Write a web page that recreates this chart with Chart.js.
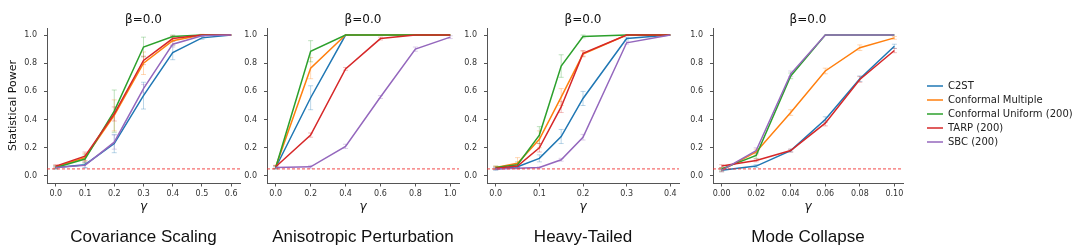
<!DOCTYPE html>
<html>
<head>
<meta charset="utf-8">
<script src="https://cdn.jsdelivr.net/npm/chart.js@4.4.1/dist/chart.umd.min.js"></script>
<style>
  body { margin: 0; background: #fff; width: 1080px; height: 249px; overflow: hidden; position: relative; }
  canvas { position: absolute; top: 0; }
</style>
</head>
<body>
<canvas id="p0" width="250" height="249" style="left:0px"></canvas>
<canvas id="p1" width="239" height="249" style="left:230px"></canvas>
<canvas id="p2" width="239" height="249" style="left:450px"></canvas>
<canvas id="p3" width="237" height="249" style="left:676px"></canvas>
<canvas id="legend" width="340" height="90" style="left:923px;top:77px"></canvas>
<script>
// series (same order in every panel)
const seriesNames = ['C2ST', 'Conformal Multiple', 'Conformal Uniform (200)', 'TARP (200)', 'SBC (200)'];
const seriesColors = ['#1f77b4', '#ff7f0e', '#2ca02c', '#d62728', '#9467bd'];
const errColors = ['rgba(31,119,180,0.3)', 'rgba(255,127,14,0.3)', 'rgba(44,160,44,0.3)', 'rgba(214,39,40,0.3)', 'rgba(148,103,189,0.3)'];

const panelNames = ['Covariance Scaling', 'Anisotropic Perturbation', 'Heavy-Tailed', 'Mode Collapse'];
const alphaLevel = 0.05;
const yTicks = [0, 0.2, 0.4, 0.6, 0.8, 1.0];

// Covariance Scaling
const covGamma = [0, 0.1, 0.2, 0.3, 0.4, 0.5, 0.6];
const covTicks = [0, 0.1, 0.2, 0.3, 0.4, 0.5, 0.6];
const covPower = [
  [0.06, 0.08, 0.23, 0.57, 0.875, 0.98, 1.0],
  [0.065, 0.13, 0.43, 0.80, 0.96, 1.0, 1.0],
  [0.06, 0.12, 0.46, 0.915, 0.99, 1.0, 1.0],
  [0.07, 0.14, 0.44, 0.82, 0.975, 1.0, 1.0],
  [0.06, 0.075, 0.24, 0.62, 0.935, 0.995, 1.0]
];
const covErr = [
  [0.01, 0.02, 0.065, 0.095, 0.05, 0.01, 0],
  [0.01, 0.03, 0.11, 0.08, 0.03, 0.005, 0],
  [0.01, 0.03, 0.15, 0.07, 0.01, 0, 0],
  [0.01, 0.03, 0.05, 0.03, 0.02, 0, 0],
  [0.01, 0.02, 0.05, 0.03, 0.02, 0.005, 0]
];

// Anisotropic Perturbation
const anisoGamma = [0, 0.2, 0.4, 0.6, 0.8, 1.0];
const anisoTicks = [0, 0.2, 0.4, 0.6, 0.8, 1.0];
const anisoPower = [
  [0.06, 0.555, 1.0, 1.0, 1.0, 1.0],
  [0.065, 0.765, 1.0, 1.0, 1.0, 1.0],
  [0.06, 0.885, 1.0, 1.0, 1.0, 1.0],
  [0.065, 0.29, 0.76, 0.975, 1.0, 1.0],
  [0.06, 0.065, 0.21, 0.56, 0.90, 0.985]
];
const anisoErr = [
  [0.01, 0.085, 0, 0, 0, 0],
  [0.01, 0.075, 0, 0, 0, 0],
  [0.01, 0.075, 0, 0, 0, 0],
  [0.01, 0.015, 0.01, 0.01, 0, 0],
  [0.01, 0.01, 0.015, 0.01, 0.015, 0.01]
];

// Heavy-Tailed
const heavyGamma = [0, 0.05, 0.1, 0.15, 0.2, 0.3, 0.4];
const heavyTicks = [0, 0.1, 0.2, 0.3, 0.4];
const heavyPower = [
  [0.05, 0.065, 0.125, 0.28, 0.55, 0.975, 1.0],
  [0.06, 0.09, 0.26, 0.56, 0.865, 1.0, 1.0],
  [0.06, 0.08, 0.29, 0.78, 0.99, 1.0, 1.0],
  [0.055, 0.07, 0.20, 0.49, 0.87, 1.0, 1.0],
  [0.05, 0.055, 0.06, 0.115, 0.275, 0.945, 1.0]
];
const heavyErr = [
  [0.01, 0.01, 0.025, 0.05, 0.05, 0.01, 0],
  [0.01, 0.04, 0.06, 0.06, 0.02, 0, 0],
  [0.01, 0.02, 0.06, 0.08, 0.01, 0, 0],
  [0.01, 0.01, 0.03, 0.04, 0.02, 0, 0],
  [0.005, 0.005, 0.005, 0.01, 0.02, 0.01, 0]
];

// Mode Collapse
const modeGamma = [0, 0.02, 0.04, 0.06, 0.08, 0.10];
const modeTicks = [0, 0.02, 0.04, 0.06, 0.08, 0.10];
const modePower = [
  [0.04, 0.07, 0.18, 0.40, 0.69, 0.92],
  [0.04, 0.17, 0.45, 0.745, 0.91, 0.98],
  [0.05, 0.145, 0.71, 1.0, 1.0, 1.0],
  [0.07, 0.11, 0.18, 0.375, 0.685, 0.89],
  [0.04, 0.18, 0.725, 1.0, 1.0, 1.0]
];
const modeErr = [
  [0.01, 0.01, 0.01, 0.02, 0.02, 0.015],
  [0.01, 0.02, 0.02, 0.02, 0.02, 0.01],
  [0.01, 0.02, 0.02, 0, 0, 0],
  [0.01, 0.01, 0.01, 0.02, 0.02, 0.015],
  [0.01, 0.02, 0.02, 0, 0, 0]
];

Chart.defaults.font.family = 'DejaVu Sans';
Chart.defaults.color = '#333';

const errorBars = {
  id: 'errorBars',
  beforeDatasetsDraw(chart) {
    const {ctx, scales: {x, y}} = chart;
    ctx.save();
    ctx.lineWidth = 1;
    chart.data.datasets.forEach(ds => {
      ctx.strokeStyle = ds.errColor;
      ds.data.forEach((p, j) => {
        const e = ds.errs[j];
        if (!e) return;
        const px = x.getPixelForValue(p.x);
        const lo = y.getPixelForValue(p.y - e), hi = y.getPixelForValue(p.y + e);
        ctx.beginPath();
        ctx.moveTo(px, lo); ctx.lineTo(px, hi);
        ctx.moveTo(px - 2.5, lo); ctx.lineTo(px + 2.5, lo);
        ctx.moveTo(px - 2.5, hi); ctx.lineTo(px + 2.5, hi);
        ctx.stroke();
      });
    });
    ctx.restore();
  }
};

const alphaLine = {
  id: 'alphaLine',
  afterDatasetsDraw(chart) {
    const {ctx, chartArea: a, scales: {y}} = chart;
    const py = y.getPixelForValue(alphaLevel);
    ctx.save();
    ctx.strokeStyle = 'rgba(240,40,40,0.85)';
    ctx.lineWidth = 1;
    ctx.setLineDash([3, 2]);
    ctx.beginPath();
    ctx.moveTo(a.left, py);
    ctx.lineTo(a.right, py);
    ctx.stroke();
    ctx.restore();
  }
};

function makePanel(idx, gamma, power, errs, ticks, xMin, xMax, decimals, yWidth) {
  const datasets = seriesNames.map((name, i) => ({
    label: name,
    data: gamma.map((g, j) => ({x: g, y: power[i][j]})),
    errs: errs[i],
    errColor: errColors[i],
    borderColor: seriesColors[i],
    backgroundColor: seriesColors[i],
    borderWidth: 1.5,
    pointRadius: 0,
    tension: 0,
    order: seriesNames.length - 1 - i
  }));

  new Chart(document.getElementById('p' + idx), {
    type: 'line',
    data: {datasets},
    plugins: [errorBars, alphaLine],
    options: {
      responsive: false,
      animation: false,
      events: [],
      layout: {padding: {right: 10}},
      scales: {
        x: {
          type: 'linear',
          min: xMin,
          max: xMax,
          afterBuildTicks: s => { s.ticks = ticks.map(v => ({value: v})); },
          afterFit: s => { s.height = 36; },
          ticks: {
            callback: v => v.toFixed(decimals),
            font: {size: 8},
            color: '#333',
            padding: 3,
            maxRotation: 0,
            autoSkip: false
          },
          grid: {drawOnChartArea: false, tickLength: 3.5, color: '#555'},
          border: {color: '#555', width: 1},
          title: {
            display: true,
            text: 'γ',
            font: {size: 12, style: 'italic'},
            color: '#111',
            padding: {top: 0, bottom: 4.8}
          }
        },
        y: {
          min: -0.05,
          max: 1.05,
          afterBuildTicks: s => { s.ticks = yTicks.map(v => ({value: v})); },
          afterFit: s => { s.width = yWidth; },
          ticks: {
            callback: v => v.toFixed(1),
            font: {size: 8},
            color: '#333',
            padding: 7
          },
          grid: {drawOnChartArea: false, tickLength: 3, color: '#555'},
          border: {color: '#555', width: 1},
          title: {
            display: idx === 0,
            text: 'Statistical Power',
            font: {size: 11},
            color: '#111',
            padding: {top: 6.4, bottom: 0}
          }
        }
      },
      plugins: {
        legend: {display: false},
        tooltip: {enabled: false},
        title: {
          display: true,
          text: 'β=0.0',
          fullSize: false,
          font: {size: 12, weight: 'normal'},
          color: '#111',
          padding: {top: 12.8, bottom: 0.8}
        },
        subtitle: {
          display: true,
          position: 'bottom',
          fullSize: false,
          text: panelNames[idx],
          font: {family: 'Liberation Sans', size: 17, weight: 'normal'},
          color: '#111',
          padding: {top: 8.2, bottom: 1.4}
        }
      }
    }
  });
}

makePanel(0, covGamma, covPower, covErr, covTicks, -0.03, 0.63, 1, 47);
makePanel(1, anisoGamma, anisoPower, anisoErr, anisoTicks, -0.05, 1.05, 1, 37);
makePanel(2, heavyGamma, heavyPower, heavyErr, heavyTicks, -0.02, 0.42, 1, 37);
makePanel(3, modeGamma, modePower, modeErr, modeTicks, -0.005, 0.105, 2, 37);

new Chart(document.getElementById('legend'), {
  type: 'line',
  data: {
    datasets: seriesNames.map((name, i) => ({
      label: name,
      data: [],
      borderColor: seriesColors[i],
      backgroundColor: seriesColors[i],
      borderWidth: 1.5
    }))
  },
  options: {
    responsive: false,
    animation: false,
    events: [],
    scales: {x: {display: false}, y: {display: false}},
    plugins: {
      tooltip: {enabled: false},
      legend: {
        position: 'left',
        align: 'start',
        labels: {
          usePointStyle: true,
          pointStyle: 'line',
          pointStyleWidth: 16,
          padding: 4,
          color: '#222',
          font: {size: 10}
        }
      }
    }
  }
});
</script>
</body>
</html>
